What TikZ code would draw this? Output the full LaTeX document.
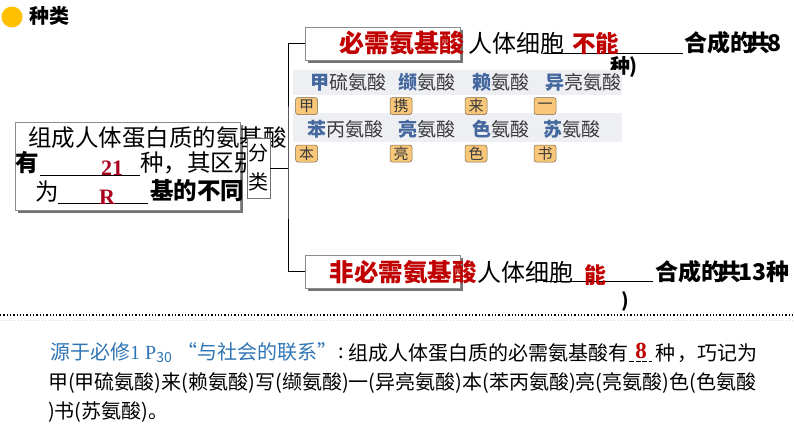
\documentclass[tikz,border=0pt]{standalone}
\usepackage{fontspec}
\setmainfont{Noto Sans CJK SC}
\newfontfamily\sernum{Liberation Serif}
\usetikzlibrary{shadows}
\definecolor{redA}{HTML}{C00000}
\definecolor{redB}{HTML}{A8001C}
\definecolor{bluA}{HTML}{44679E}
\definecolor{bluB}{HTML}{2F75B5}
\definecolor{bandc}{HTML}{EDEFF3}
\definecolor{tagf}{HTML}{F8C77A}
\definecolor{tagd}{HTML}{7A6848}
\definecolor{txtg}{HTML}{3A3A3A}
\definecolor{dotc}{HTML}{FFC000}
\newcommand{\fsz}[1]{\fontsize{#1}{#1}\selectfont}
\newcommand{\bl}[1]{{\color{bluA}\bfseries #1}}
\tikzset{
  txt/.style={inner sep=0pt, anchor=west},
  shbox/.style={draw=black!45, fill=white, line width=0.6pt, inner sep=0pt,
    drop shadow={shadow xshift=3pt, shadow yshift=-3pt, fill=black!55, opacity=1}},
  tag/.style={draw=tagd, fill=tagf, rounded corners=2.5pt, minimum width=22pt,
    minimum height=17pt, inner sep=0pt, text=txtg, font=\fsz{15}, line width=0.5pt},
  band/.style={fill=bandc, draw=none},
  conn/.style={draw=black, line width=0.8pt},
  uline/.style={draw=black, line width=0.8pt}
}
\begin{document}
\begin{tikzpicture}[x=1pt,y=-1pt]
\useasboundingbox[fill=white] (0,0) rectangle (794,447);
% title
\fill[dotc] (12,17) circle (10.5);
\node[txt] (title) at (29,16) {\fsz{20}\bfseries 种类};
% left box
\node[shbox, minimum width=225pt, minimum height=88pt] (lb) at (127.5,166) {};
\node[txt] (l1) at (28,138) {\fsz{23.5}组成人体蛋白质的氨基酸};
\node[txt] (l2a) at (15,163) {\fsz{23.5}\bfseries 有};
\node[txt] (l2b) at (140,163) {\fsz{23.5}种，其区别};
\draw[uline] (40,175) -- (140,175);
\node (n21) [inner sep=0pt] at (112,168) {\sernum\fsz{22}\bfseries\color{redB}21};
\node[txt] (l3a) at (35,191) {\fsz{23.5}为};
\node[txt] (l3b) at (150,191) {\fsz{23.5}\bfseries 基的不同};
\draw[uline] (58,203) -- (148,203);
\node (nR) [inner sep=0pt] at (107,197) {\sernum\fsz{22}\bfseries\color{redB}R};
% fenlei box
\node[draw=black!55, fill=white, minimum width=23pt, minimum height=60pt, inner sep=0pt, line width=0.6pt] (fl) at (258.5,168) {};
\node[inner sep=0pt] (f1) at (258.5,153) {\fsz{20}分};
\node[inner sep=0pt] (f2) at (258.5,182) {\fsz{20}类};
% top box
\node[shbox, minimum width=155pt, minimum height=33pt] (top) at (382.5,43.5) {};
\node[inner sep=0pt] (tt) at (402,43) {\fsz{25}\bfseries\color{redA}必需氨基酸};
\node[txt] (ta) at (468,43) {\fsz{24}人体细胞};
\draw[uline] (543,53) -- (683,53);
\node[txt] (tb) at (572,44) {\fsz{23.5}\bfseries\color{redA}不能};
\node[txt] (tc) at (684,43) {\fsz{23}\bfseries 合成的\kern-6pt 共\kern-3pt 8};
\node[txt] (td) at (610,67) {\fsz{20}\bfseries 种\kern-1pt )};
% bottom box
\node[shbox, minimum width=155pt, minimum height=33pt] (bot) at (382.5,271.5) {};
\node[inner sep=0pt] (bt) at (403,272) {\fsz{24.5}\bfseries\color{redA}非必需氨基酸};
\node[txt] (ba) at (477,272) {\fsz{24}人体细胞};
\draw[uline] (543,281) -- (653,281);
\node[inner sep=0pt] (bb) at (595,275) {\fsz{22}\bfseries\color{redA}能};
\node[txt] (bc) at (655,272) {\fsz{23}\bfseries 合成的\kern-6pt 共\kern-3pt 13种};
\node[inner sep=0pt] (bd) at (625,301) {\fsz{19}\bfseries )};
% connectors
\coordinate (j) at (288,168);
\draw[conn] (fl.east) -- (j);
\draw[conn] (top.west) -| (j) |- (bot.west);
% table bands
\fill[band] (293,70) rectangle (622,95);
\fill[band] (293,113) rectangle (622,142);
\node[txt] (r11) at (310,82) {\fsz{19}\color{txtg}\bl{甲}硫氨酸};
\node[txt] (r12) at (398,82) {\fsz{19}\color{txtg}\bl{缬}氨酸};
\node[txt] (r13) at (472,82) {\fsz{19}\color{txtg}\bl{赖}氨酸};
\node[txt] (r14) at (545,82) {\fsz{19}\color{txtg}\bl{异}亮氨酸};
\node[txt] (r21) at (307,129) {\fsz{19}\color{txtg}\bl{苯}丙氨酸};
\node[txt] (r22) at (398,129) {\fsz{19}\color{txtg}\bl{亮}氨酸};
\node[txt] (r23) at (472,129) {\fsz{19}\color{txtg}\bl{色}氨酸};
\node[txt] (r24) at (543,129) {\fsz{19}\color{txtg}\bl{苏}氨酸};
\node[tag] (t11) at (306.5,106) {甲};
\node[tag] (t12) at (401,106) {携};
\node[tag] (t13) at (476,106) {来};
\node[tag] (t14) at (545,106) {一};
\node[tag] (t21) at (306.5,153.5) {本};
\node[tag] (t22) at (401,153.5) {亮};
\node[tag] (t23) at (476,153.5) {色};
\node[tag] (t24) at (545,153.5) {书};
% divider
\draw[black, dotted, line width=1.3pt] (0,315) -- (794,315);
\draw[black!15, dotted, line width=1pt] (0,320) -- (794,320);
% bottom text
\node[txt] (p1a) at (50,353) {\fsz{20}\color{bluB}源于必修{\sernum 1 P$_{\mathrm{30}}$}\hspace{5pt}“与社会的联系”};
\node[inner sep=0pt] (p1col) at (341,353) {\fsz{20}:};
\node[txt] (p1b) at (348,353) {\fsz{20}组成人体蛋白质的必需氨基酸有};
\draw[black, line width=0.8pt, dash pattern=on 5pt off 1.5pt] (629,361) -- (652,361);
\node[inner sep=0pt] (p1c) at (641,351) {\sernum\bfseries\color{redA}\fsz{23}8};
\node[txt] (p1d) at (655,353) {\fsz{20}种\hspace{2pt}，巧记为};
\node[txt] (p2) at (48,383) {\fsz{20}甲(甲硫氨酸)来(赖氨酸)写(缬氨酸)一(异亮氨酸)本(苯丙氨酸)亮(亮氨酸)色(色氨酸};
\node[txt] (p3) at (48,412) {\fsz{20})书(苏氨酸)。};
\end{tikzpicture}
\end{document}
